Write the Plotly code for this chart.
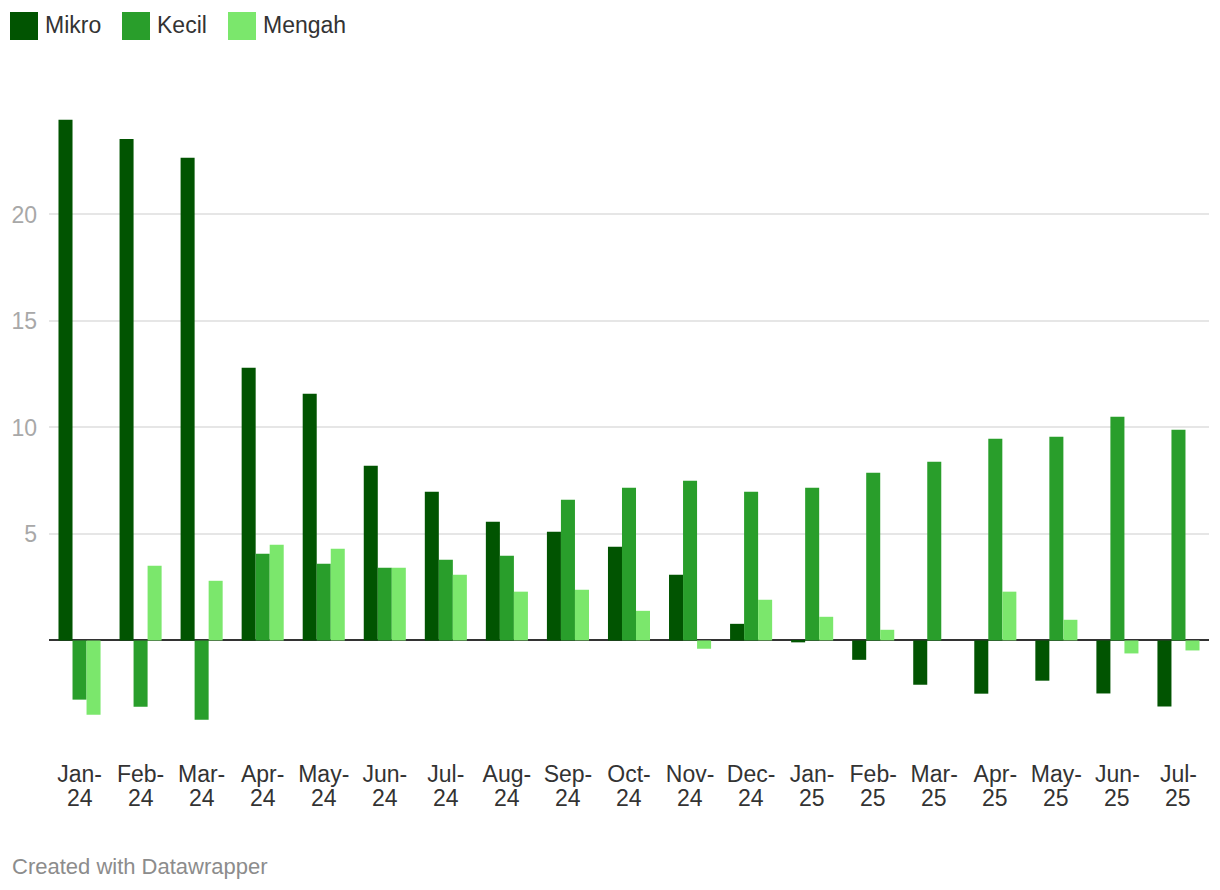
import plotly.graph_objects as go

month_labels = ["Jan-", "Feb-", "Mar-", "Apr-", "May-", "Jun-", "Jul-", "Aug-", "Sep-",
                "Oct-", "Nov-", "Dec-", "Jan-", "Feb-", "Mar-", "Apr-", "May-", "Jun-", "Jul-"]
year_labels = ["24"] * 12 + ["25"] * 7

mikro = [24.45, 23.55, 22.66, 12.80, 11.58, 8.20, 6.98, 5.57, 5.10, 4.40, 3.08, 0.78,
         -0.09, -0.91, -2.08, -2.50, -1.89, -2.49, -3.10]
kecil = [-2.78, -3.11, -3.72, 4.07, 3.60, 3.41, 3.79, 3.98, 6.60, 7.17, 7.50, 6.98,
         7.17, 7.87, 8.39, 9.47, 9.56, 10.50, 9.89]
mengah = [-3.49, 3.51, 2.80, 4.49, 4.30, 3.41, 3.08, 2.29, 2.38, 1.39, -0.39, 1.91,
          1.11, 0.50, None, 2.29, 0.97, -0.61, -0.47]

series_names = ["Mikro", "Kecil", "Mengah"]
series_colors = ["#015401", "#299e2b", "#7be76c"]
series_values = [mikro, kecil, mengah]

y_ticks = [5, 10, 15, 20]
footer = "Created with Datawrapper"

W, H = 1220, 890
ML, MR, MT, MB = 49, 11, 108, 132
PW, PH = W - ML - MR, H - MT - MB

def px_x(px):
    return (px - ML) / PW

def px_y(py):
    return (H - MB - py) / PH

cats = list(range(len(month_labels)))

fig = go.Figure()
for name, color, vals in zip(series_names, series_colors, series_values):
    fig.add_trace(go.Bar(x=cats, y=vals, name=name,
                         marker=dict(color=color, line=dict(width=0)),
                         showlegend=False, hoverinfo="y+name"))

font_family = "Liberation Sans, Arial, sans-serif"

shapes = []
annotations = []
# custom legend (large square swatches)
legend_x = [10, 122, 228]
for name, color, lx in zip(series_names, series_colors, legend_x):
    shapes.append(dict(type="rect", xref="paper", yref="paper",
                       x0=px_x(lx), x1=px_x(lx + 28), y0=px_y(40), y1=px_y(12),
                       fillcolor=color, line=dict(width=0), layer="above"))
    annotations.append(dict(text=name, xref="paper", yref="paper",
                            x=px_x(lx + 33), y=px_y(25), xanchor="left", yanchor="middle",
                            showarrow=False,
                            font=dict(family=font_family, size=23, color="#333333")))

# second line of the category labels (year), tighter line spacing like the original
for c, yr in zip(cats, year_labels):
    annotations.append(dict(text=yr, xref="x", yref="paper", x=c, y=px_y(798),
                            xanchor="center", yanchor="middle", showarrow=False,
                            font=dict(family=font_family, size=23, color="#333333")))

annotations.append(dict(text=footer, xref="paper", yref="paper",
                        x=px_x(10), y=px_y(866), xanchor="left", yanchor="middle",
                        showarrow=False,
                        font=dict(family=font_family, size=22, color="#8c8c8c")))

fig.update_layout(
    width=W, height=H,
    margin=dict(l=ML, r=MR, t=MT, b=MB, pad=0),
    paper_bgcolor="white", plot_bgcolor="white",
    barmode="group", bargap=0.311, bargroupgap=0,
    font=dict(family=font_family, size=22, color="#333333"),
    shapes=shapes, annotations=annotations,
    xaxis=dict(tickmode="array", tickvals=cats, ticktext=month_labels,
               range=[-0.5, len(cats) - 0.5], showgrid=False, showline=False,
               zeroline=False, ticks="", tickfont=dict(size=23, color="#333333"),
               fixedrange=True),
    yaxis=dict(range=[-5.52, 25], tickmode="array", tickvals=y_ticks,
               ticktext=[str(v) for v in y_ticks], showgrid=True,
               gridcolor="#e6e6e6", gridwidth=2, zeroline=True,
               zerolinecolor="#333333", zerolinewidth=2, showline=False, ticks="",
               ticklabelstandoff=11,
               tickfont=dict(size=23, color="#a8a8a8"), fixedrange=True),
)

fig.write_html("out.html", config={"displayModeBar": False},
               post_script="document.body.style.margin='0';document.body.style.overflow='hidden';")
